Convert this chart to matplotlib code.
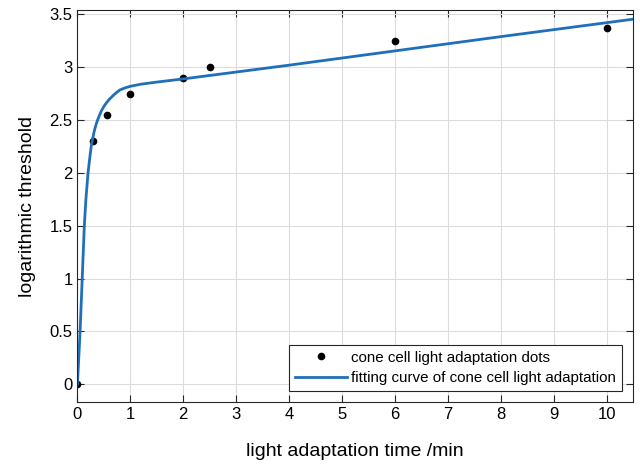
import numpy as np
import matplotlib.pyplot as plt

plt.rcParams['font.family'] = ['Liberation Sans', 'DejaVu Sans']

# pontos medidos
t_pts = [0, 0.3, 0.55, 1, 2, 2.5, 6, 10]
lim_pts = [0, 2.3, 2.55, 2.75, 2.9, 3.0, 3.25, 3.37]

# curva de ajuste
t_fit = [0, 0.02, 0.05, 0.09, 0.13, 0.16, 0.2, 0.23, 0.26, 0.29, 0.32, 0.35,
         0.38, 0.42, 0.45, 0.5, 0.55, 0.6, 0.65, 0.7, 0.75, 0.8, 0.9, 1, 1.1,
         1.2, 1.35, 1.5, 1.75, 2, 3, 4, 6, 8, 10.5]
lim_fit = [0, 0.2, 0.5, 1.0, 1.5, 1.75, 2.0, 2.13, 2.25, 2.33, 2.4, 2.455,
           2.5, 2.55, 2.585, 2.63, 2.665, 2.695, 2.72, 2.745, 2.765, 2.785,
           2.805, 2.82, 2.83, 2.84, 2.85, 2.86, 2.875, 2.89, 2.955, 3.02,
           3.155, 3.29, 3.455]

fig = plt.figure(figsize=(6.4, 4.65), dpi=100)
ax = fig.add_axes([0.121, 0.135, 0.868, 0.843])

ax.plot(t_pts, lim_pts, 'o', color='black', markersize=4.5,
        label='cone cell light adaptation dots')
ax.plot(t_fit, lim_fit, '-', color='#1f6fba', linewidth=2,
        label='fitting curve of cone cell light adaptation')

ax.set_xlim(0, 10.5)
ax.set_ylim(-0.17, 3.54)
ax.set_xticks(np.arange(0, 11, 1))
ax.set_yticks(np.arange(0, 3.6, 0.5))
ax.set_yticklabels(['0', '0.5', '1', '1.5', '2', '2.5', '3', '3.5'])
ax.tick_params(direction='in', top=True, right=True, labelsize=12, length=5,
               colors='#262626', labelcolor='black')
ax.grid(color='#dcdcdc', linewidth=0.8)
ax.set_axisbelow(True)
for s in ax.spines.values():
    s.set_color('#262626')

ax.set_xlabel('light adaptation time /min', fontsize=14, labelpad=15)
ax.set_ylabel('logarithmic threshold', fontsize=14, labelpad=10)

leg = ax.legend(loc='lower right', fontsize=10.9, fancybox=False, framealpha=1,
                edgecolor='#262626', handlelength=3.4, borderaxespad=0.75,
                borderpad=0.4, labelspacing=0.4, handletextpad=0.25)
leg.get_frame().set_linewidth(0.8)

plt.savefig('out.png', dpi=100)
